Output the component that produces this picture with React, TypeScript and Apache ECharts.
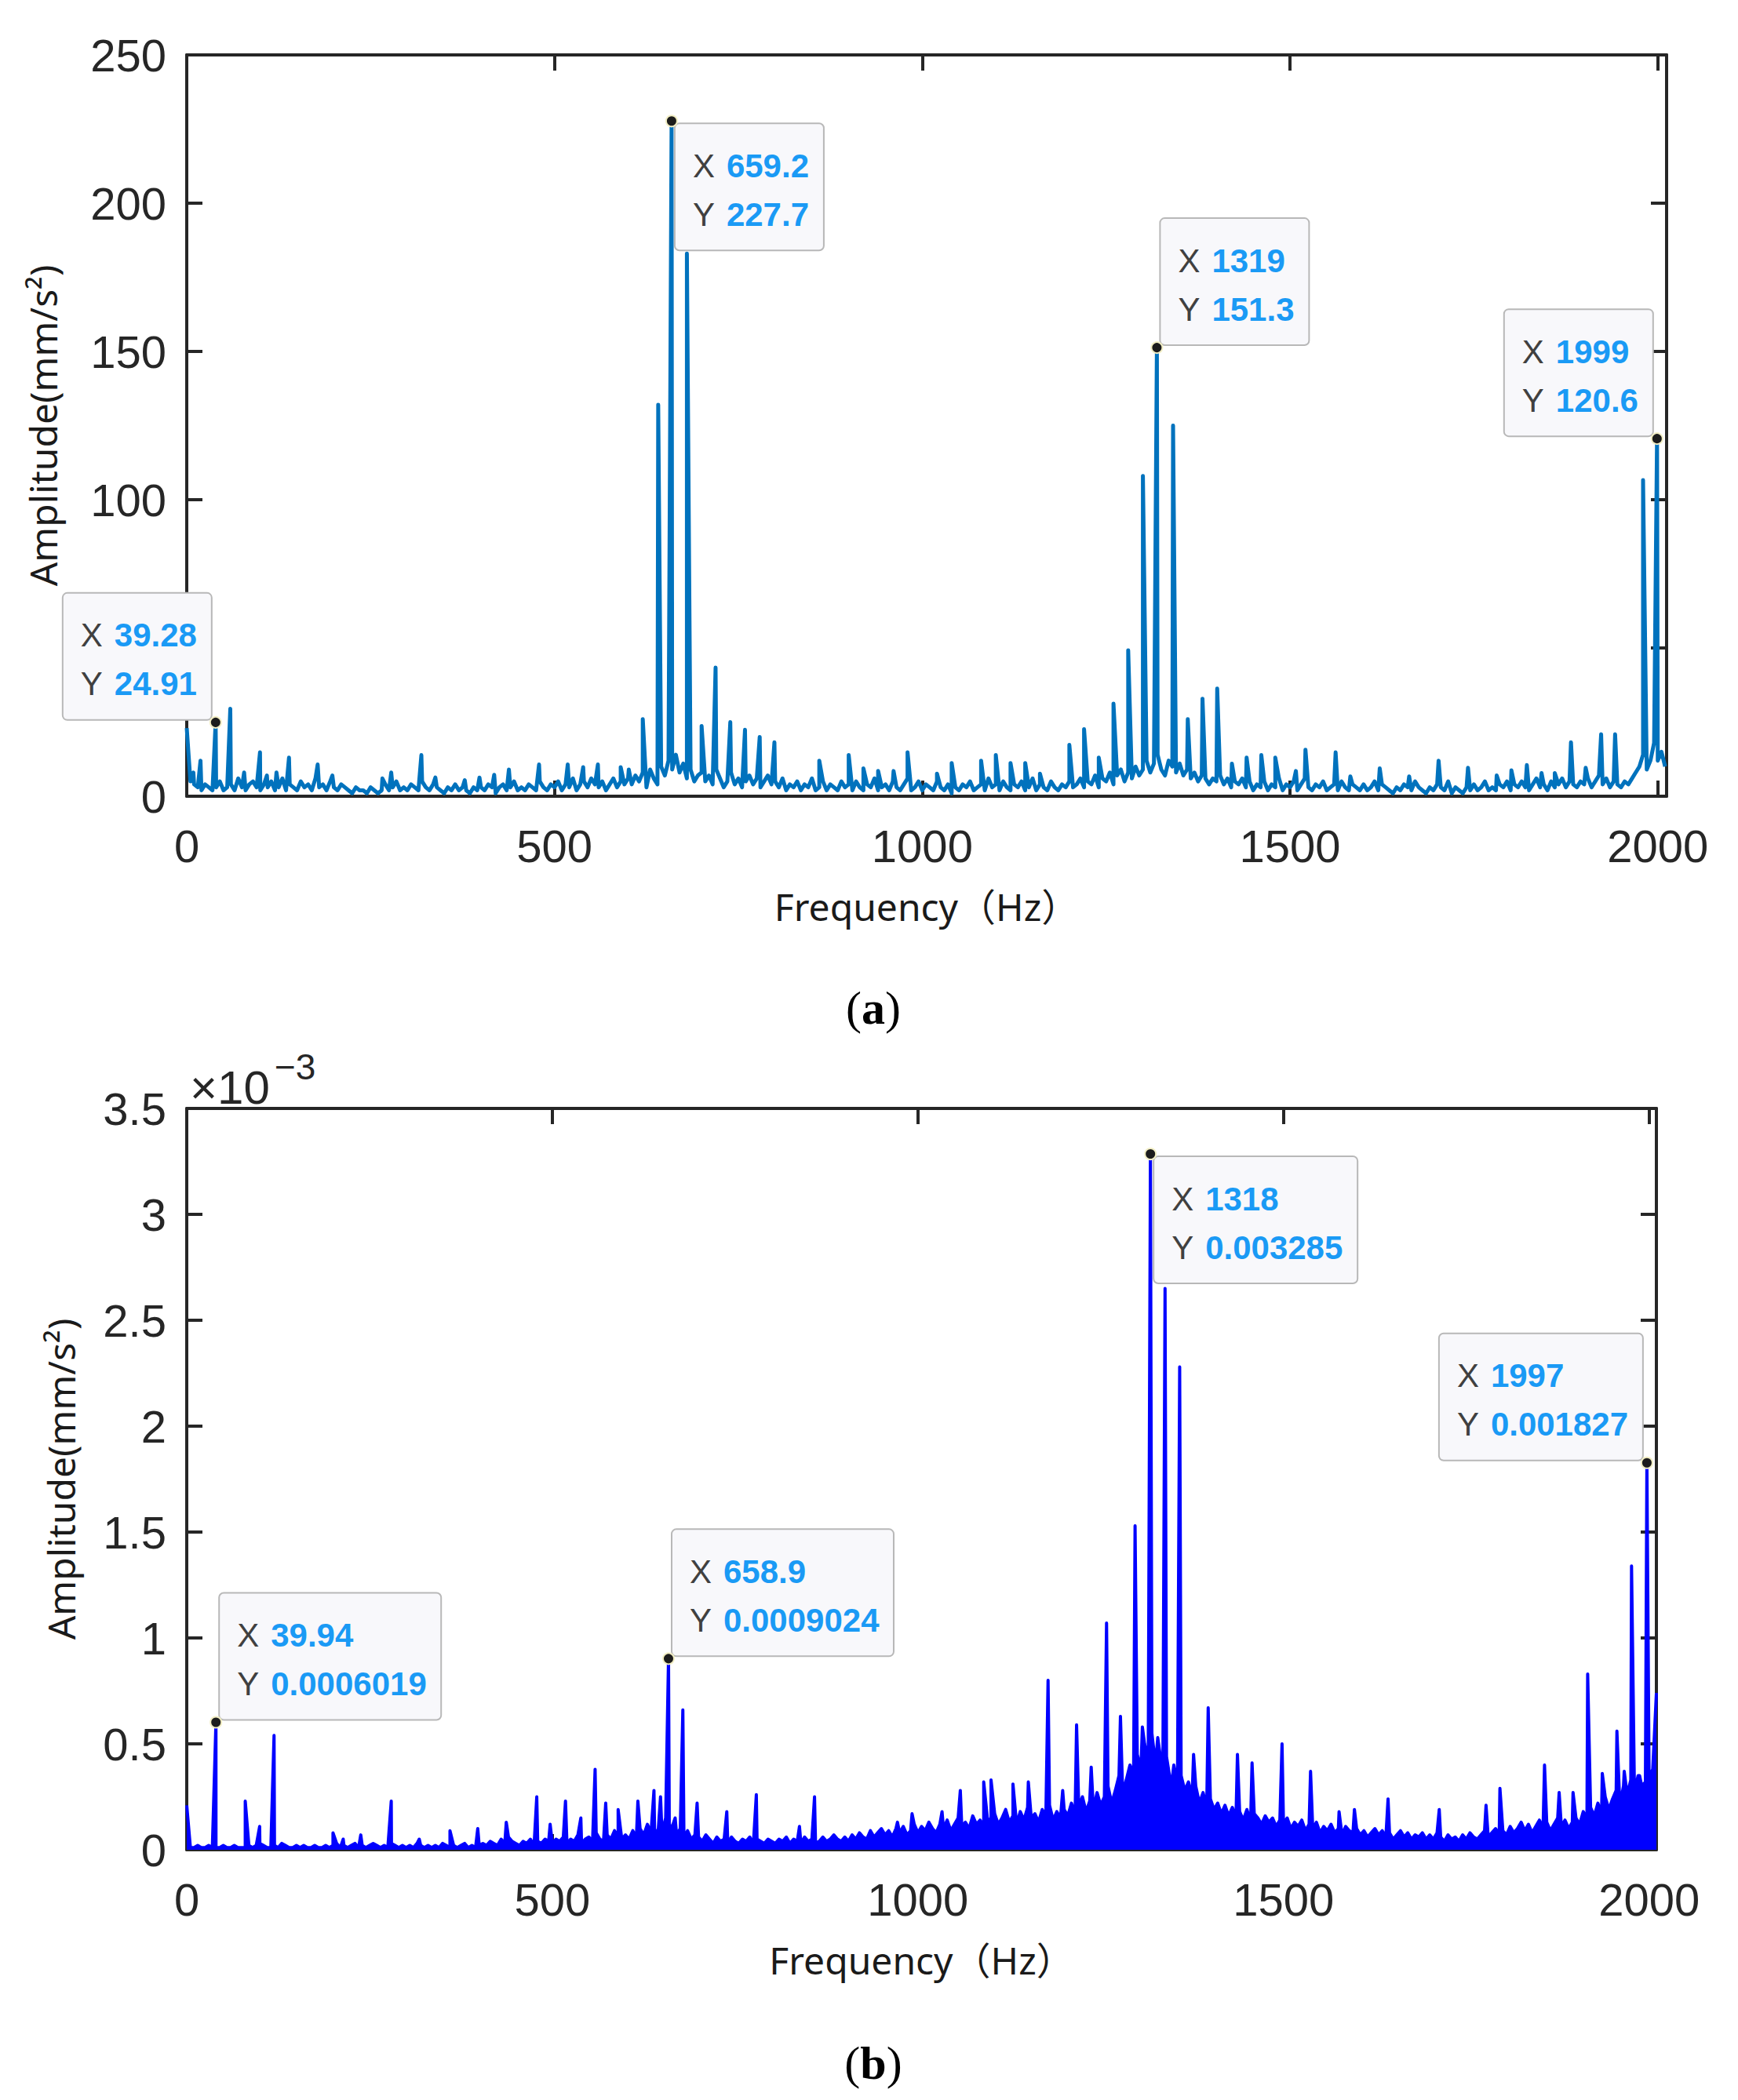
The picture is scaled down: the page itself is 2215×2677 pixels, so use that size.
import React, { useEffect, useRef } from "react";
import * as echarts from "echarts";

// ---------- chart (a) data : amplitude in mm/s^2 ----------
const aStep = 5; // Hz between floor samples
const aFloor: number[] = [
  23, 5, 4, 3, 2, 4, 3, 2, 3, 5, 2, 3, 4, 2, 6, 3, 2, 4, 5, 3,
  2, 4, 3, 5, 2, 3, 6, 2, 4, 3, 2, 5, 3, 4, 2, 6, 3, 4, 2, 5,
  3, 2, 4, 3, 2, 1, 3, 2, 2, 1, 3, 2, 1, 2, 4, 2, 3, 5, 2, 3,
  2, 4, 3, 2, 5, 3, 2, 4, 3, 2, 1, 3, 2, 4, 2, 3, 2, 1, 3, 2,
  3, 2, 4, 3, 1, 3, 4, 2, 3, 5, 2, 3, 2, 4, 3, 2, 5, 3, 2, 4,
  3, 5, 2, 4, 3, 6, 2, 4, 5, 3, 6, 4, 3, 5, 2, 4, 6, 3, 5, 4,
  6, 4, 7, 5, 8, 3, 9, 6, 4, 10, 7, 12, 9, 14, 8, 11, 6, 9, 5, 7,
  8, 5, 7, 4, 9, 6, 3, 5, 8, 4, 6, 3, 5, 7, 4, 6, 3, 5, 7, 4,
  5, 3, 6, 2, 4, 3, 5, 2, 4, 3, 6, 2, 3, 5, 2, 4, 3, 2, 5, 3,
  4, 2, 5, 3, 2, 4, 3, 6, 2, 3, 4, 2, 5, 3, 2, 4, 6, 2, 3, 5,
  2, 4, 3, 2, 5, 3, 2, 4, 1, 3, 2, 4, 3, 5, 2, 3, 4, 2, 6, 3,
  4, 2, 5, 3, 2, 4, 3, 5, 2, 3, 6, 2, 4, 3, 2, 5, 3, 2, 4, 3,
  5, 3, 4, 6, 3, 5, 4, 7, 3, 6, 5, 8, 4, 7, 9, 5, 8, 6, 10, 7,
  9, 12, 8, 11, 14, 9, 7, 12, 10, 8, 11, 7, 9, 6, 8, 5, 7, 6, 4, 6,
  5, 7, 4, 6, 3, 5, 4, 6, 3, 5, 2, 4, 3, 5, 2, 4, 3, 6, 2, 4,
  3, 5, 2, 4, 6, 3, 2, 4, 3, 5, 2, 3, 4, 2, 5, 3, 2, 4, 3, 2,
  4, 2, 3, 5, 2, 4, 3, 2, 1, 3, 2, 4, 3, 2, 5, 3, 2, 1, 3, 2,
  4, 3, 2, 5, 1, 3, 2, 1, 3, 2, 4, 2, 3, 5, 2, 3, 2, 4, 3, 5,
  2, 4, 3, 5, 3, 2, 4, 6, 3, 4, 2, 5, 3, 4, 6, 3, 5, 4, 3, 5,
  4, 6, 3, 5, 7, 4, 6, 3, 5, 4, 3, 5, 4, 6, 8, 10, 14, 9, 12, 18,
  12, 15, 10,
];
const aPeaks: [number, number][] = [
  [9, 8], [18.7, 12], [39.28, 24.91], [59.2, 29.5], [78, 8], [99.6, 14.8], [109, 7], [122, 8],
  [139, 13], [178, 10.7], [198, 7], [266, 6], [278, 8], [319, 13.9], [338, 6.3], [378, 5.4],
  [398, 6.3], [418, 7.2], [438, 9], [479, 10.7], [518, 10.7], [539, 9.8], [559, 10.7], [590, 9.8],
  [601, 9], [620, 26], [641, 132], [659.2, 227.7], [680, 183], [700, 23.7], [719, 43.4], [739, 25],
  [759, 22.4], [779, 20], [799, 18.2], [860, 12], [900, 13.9], [920, 9.4], [940, 8.5], [961, 8.5],
  [980, 14.8], [1020, 7.6], [1040, 11.2], [1080, 12], [1100, 13.9], [1120, 11.2], [1140, 11.2],
  [1160, 7.6], [1200, 17.3], [1220, 22.6], [1240, 13], [1260, 31.2], [1280, 49.2], [1300, 108],
  [1319, 151.3], [1341, 125], [1361, 26], [1381, 32.9], [1401, 36.3], [1421, 11], [1441, 13],
  [1461, 13.9], [1480, 13], [1508, 8.5], [1521, 15.7], [1562, 14.8], [1582, 6.7], [1622, 9.4],
  [1662, 6.7], [1702, 12], [1742, 9.6], [1781, 7], [1801, 8.7], [1822, 10.5], [1842, 7.8],
  [1860, 7.8], [1882, 18.2], [1902, 9.6], [1923, 20.9], [1942, 20.9], [1980, 106.6], [1999, 120.6],
];
const aTipFreqs = [39.28, 659.2, 1319, 1999];
const aTipPlace = ["ul", "dr", "ur", "ul"];
const aXTicks = [0, 500, 1000, 1500, 2000];
// the "50" label is hidden under the first data tip in the reference
const aYLabels = [0, 100, 150, 200, 250];

// ---------- chart (b) data : amplitude in 10^-3 mm/s^2 ----------
const bStep = 5;
const bFloor: number[] = [
  0.21, 0.01, 0.01, 0.02, 0.01, 0.01, 0.02, 0.01, 0.01, 0.01, 0.02, 0.01, 0.01, 0.02, 0.01, 0.01, 0.01, 0.02, 0.01, 0.02,
  0.03, 0.02, 0.01, 0.01, 0.02, 0.01, 0.03, 0.02, 0.01, 0.01, 0.02, 0.01, 0.02, 0.01, 0.01, 0.02, 0.01, 0.01, 0.02, 0.01,
  0.02, 0.03, 0.01, 0.02, 0.01, 0.02, 0.03, 0.01, 0.02, 0.01, 0.02, 0.03, 0.02, 0.01, 0.02, 0.01, 0.03, 0.02, 0.01, 0.02,
  0.01, 0.02, 0.01, 0.03, 0.02, 0.01, 0.02, 0.01, 0.02, 0.01, 0.03, 0.02, 0.01, 0.02, 0.01, 0.02, 0.03, 0.01, 0.02, 0.01,
  0.02, 0.03, 0.02, 0.04, 0.03, 0.02, 0.05, 0.03, 0.06, 0.04, 0.03, 0.02, 0.04, 0.03, 0.05, 0.02, 0.04, 0.03, 0.05, 0.04,
  0.03, 0.05, 0.04, 0.06, 0.03, 0.05, 0.04, 0.07, 0.03, 0.05, 0.06, 0.04, 0.08, 0.05, 0.04, 0.07, 0.05, 0.09, 0.06, 0.05,
  0.07, 0.05, 0.09, 0.06, 0.1, 0.07, 0.12, 0.08, 0.06, 0.1, 0.08, 0.15, 0.09, 0.12, 0.07, 0.1, 0.06, 0.09, 0.05, 0.07,
  0.06, 0.04, 0.07, 0.05, 0.03, 0.06, 0.04, 0.05, 0.03, 0.06, 0.04, 0.03, 0.05, 0.04, 0.06, 0.03, 0.05, 0.04, 0.03, 0.05,
  0.04, 0.03, 0.05, 0.04, 0.06, 0.03, 0.05, 0.04, 0.03, 0.06, 0.04, 0.05, 0.03, 0.04, 0.06, 0.04, 0.05, 0.07, 0.05, 0.04,
  0.06, 0.04, 0.07, 0.05, 0.08, 0.06, 0.05, 0.09, 0.06, 0.08, 0.1, 0.07, 0.09, 0.06, 0.1, 0.08, 0.11, 0.07, 0.09, 0.12,
  0.08, 0.11, 0.09, 0.13, 0.1, 0.08, 0.12, 0.1, 0.14, 0.09, 0.12, 0.15, 0.11, 0.13, 0.1, 0.16, 0.12, 0.14, 0.11, 0.15,
  0.13, 0.17, 0.12, 0.15, 0.19, 0.13, 0.16, 0.12, 0.18, 0.14, 0.2, 0.15, 0.17, 0.13, 0.19, 0.16, 0.21, 0.14, 0.18, 0.15,
  0.19, 0.16, 0.22, 0.17, 0.2, 0.25, 0.18, 0.23, 0.19, 0.27, 0.21, 0.25, 0.3, 0.22, 0.28, 0.35, 0.27, 0.33, 0.4, 0.36,
  0.45, 0.38, 0.5, 0.42, 0.55, 0.4, 0.48, 0.36, 0.44, 0.33, 0.4, 0.3, 0.35, 0.28, 0.32, 0.25, 0.3, 0.22, 0.27, 0.2,
  0.24, 0.19, 0.22, 0.17, 0.21, 0.16, 0.2, 0.15, 0.18, 0.14, 0.19, 0.13, 0.17, 0.15, 0.12, 0.16, 0.13, 0.15, 0.11, 0.14,
  0.12, 0.15, 0.1, 0.13, 0.11, 0.14, 0.09, 0.12, 0.1, 0.13, 0.08, 0.11, 0.09, 0.12, 0.08, 0.1, 0.07, 0.11, 0.09, 0.08,
  0.1, 0.07, 0.09, 0.06, 0.08, 0.1, 0.07, 0.09, 0.06, 0.08, 0.05, 0.07, 0.09, 0.06, 0.08, 0.05, 0.07, 0.06, 0.08, 0.05,
  0.07, 0.05, 0.08, 0.06, 0.04, 0.07, 0.05, 0.06, 0.04, 0.07, 0.05, 0.08, 0.06, 0.05, 0.07, 0.09, 0.06, 0.08, 0.1, 0.07,
  0.09, 0.07, 0.11, 0.08, 0.1, 0.13, 0.09, 0.12, 0.08, 0.11, 0.14, 0.1, 0.13, 0.09, 0.12, 0.15, 0.11, 0.14, 0.1, 0.13,
  0.15, 0.12, 0.18, 0.14, 0.2, 0.16, 0.22, 0.17, 0.25, 0.19, 0.24, 0.28, 0.21, 0.3, 0.26, 0.33, 0.27, 0.35, 0.3, 0.32,
  0.34, 0.38, 0.74,
];
const bPeaks: [number, number][] = [
  [39.94, 0.6019], [80, 0.23], [99.7, 0.11], [119.4, 0.54], [200, 0.08], [214, 0.05], [238, 0.07],
  [279.7, 0.23], [318, 0.05], [360, 0.09], [398, 0.1], [437, 0.13], [478.7, 0.25], [497, 0.12],
  [518, 0.23], [539, 0.15], [558.5, 0.38], [573, 0.22], [590, 0.19], [617, 0.23], [639, 0.28],
  [648, 0.25], [658.9, 0.9024], [668, 0.15], [678.5, 0.66], [698, 0.22], [738.6, 0.18], [779, 0.26],
  [838, 0.11], [858.6, 0.25], [972, 0.13], [992, 0.17], [1033, 0.18], [1058, 0.28], [1090, 0.32],
  [1100, 0.33], [1130, 0.31], [1151, 0.32], [1178, 0.8], [1198, 0.28], [1217, 0.59], [1237, 0.39],
  [1258, 1.07], [1277, 0.63], [1297, 1.53], [1307, 0.58], [1318, 3.285], [1328, 0.53], [1338, 2.65],
  [1348, 0.34], [1358, 2.28], [1377, 0.45], [1397, 0.67], [1437, 0.45], [1457, 0.41], [1498, 0.5],
  [1537, 0.37], [1576, 0.18], [1597, 0.19], [1643, 0.24], [1713, 0.19], [1777, 0.21], [1796, 0.29],
  [1857, 0.4], [1877, 0.27], [1896, 0.27], [1916, 0.83], [1936, 0.36], [1956, 0.56], [1966, 0.37],
  [1976, 1.34], [1987, 0.35], [1997, 1.827],
];
const bTipFreqs = [39.94, 658.9, 1318, 1997];
const bTipPlace = ["ur", "ur", "dr", "ul"];
const bScale = 1e-3; // stored values are in units of 10^-3
const bXTicks = [0, 500, 1000, 1500, 2000];
const bYLabels = [0, 0.5, 1, 1.5, 2, 2.5, 3, 3.5];

// ---------- helpers ----------
function buildSeries(floor: number[], step: number, peaks: [number, number][]): [number, number][] {
  const pts: [number, number][] = floor.map((v, i) => [i * step, v] as [number, number]);
  peaks.forEach((p) => pts.push([p[0], p[1]]));
  pts.sort((a, b) => a[0] - b[0]);
  return pts;
}

const TICK_COLOR = "#262626";
const TICK_FONT = "'Liberation Sans', Arial, sans-serif";
const NAME_FONT = "'Noto Sans', 'Noto Sans CJK SC', sans-serif";
const TIP_SIZE = 42;

function valueAxisX(gridIndex: number, max: number, top: boolean, ticks: number[]) {
  return {
    type: "value",
    gridIndex,
    min: 0,
    max,
    interval: 500,
    position: top ? "top" : "bottom",
    name: top ? "" : "Frequency\uFF08Hz\uFF09",
    nameLocation: "middle",
    nameGap: 116,
    nameTextStyle: { fontFamily: NAME_FONT, fontSize: 48, color: "#1a1a1a" },
    axisLine: { show: true, onZero: false, lineStyle: { color: TICK_COLOR, width: 4 } },
    axisTick: { show: true, inside: true, length: 20, lineStyle: { color: TICK_COLOR, width: 4 } },
    axisLabel: {
      show: !top,
      margin: 34,
      fontFamily: TICK_FONT,
      fontSize: 58,
      color: TICK_COLOR,
      formatter: (v: number) => (ticks.indexOf(v) >= 0 ? String(v) : ""),
    },
    splitLine: { show: false },
  };
}

function valueAxisY(gridIndex: number, max: number, interval: number, right: boolean, labels: number[], nameGap: number) {
  return {
    type: "value",
    gridIndex,
    min: 0,
    max,
    interval,
    position: right ? "right" : "left",
    name: right ? "" : "Amplitude(mm/s\u00B2)",
    nameLocation: "middle",
    nameRotate: 90,
    nameGap,
    nameTextStyle: { fontFamily: NAME_FONT, fontSize: 48, color: "#1a1a1a" },
    axisLine: { show: true, onZero: false, lineStyle: { color: TICK_COLOR, width: 4 } },
    axisTick: { show: true, inside: true, length: 20, lineStyle: { color: TICK_COLOR, width: 4 } },
    axisLabel: {
      show: !right,
      margin: 26,
      fontFamily: TICK_FONT,
      fontSize: 58,
      color: TICK_COLOR,
      formatter: (v: number) => (labels.indexOf(v) >= 0 ? String(v) : ""),
    },
    splitLine: { show: false },
  };
}

let measureCtx: CanvasRenderingContext2D | null = null;
function textWidth(s: string, font: string): number {
  if (!measureCtx) measureCtx = document.createElement("canvas").getContext("2d");
  if (!measureCtx) return s.length * TIP_SIZE * 0.56;
  measureCtx.font = font;
  return measureCtx.measureText(s).width;
}

export default function App() {
  const ref = useRef<HTMLDivElement>(null);
  useEffect(() => {
    document.body.style.margin = "0";
    if (!ref.current) return;
    const chart = echarts.init(ref.current, null, { renderer: "svg" });

    const aData = buildSeries(aFloor, aStep, aPeaks);
    const bData = buildSeries(bFloor, bStep, bPeaks);

    chart.setOption({
      animation: false,
      backgroundColor: "#ffffff",
      grid: [
        { left: 238, top: 70, width: 1886, height: 945 },
        { left: 238, top: 1413, width: 1873, height: 945 },
      ],
      xAxis: [
        valueAxisX(0, 2012, false, aXTicks),
        valueAxisX(0, 2012, true, aXTicks),
        valueAxisX(1, 2010, false, bXTicks),
        valueAxisX(1, 2010, true, bXTicks),
      ],
      yAxis: [
        valueAxisY(0, 250, 50, false, aYLabels, 160),
        valueAxisY(0, 250, 50, true, aYLabels, 160),
        valueAxisY(1, 3.5, 0.5, false, bYLabels, 137),
        valueAxisY(1, 3.5, 0.5, true, bYLabels, 137),
      ],
      series: [
        {
          type: "line",
          xAxisIndex: 0,
          yAxisIndex: 0,
          data: aData,
          showSymbol: false,
          symbol: "none",
          clip: true,
          lineStyle: { color: "#0072BD", width: 5, join: "round" },
          z: 3,
        },
        {
          type: "line",
          xAxisIndex: 2,
          yAxisIndex: 2,
          data: bData,
          showSymbol: false,
          symbol: "none",
          clip: true,
          lineStyle: { color: "#0000FF", width: 4, join: "round" },
          areaStyle: { color: "#0000FF", opacity: 1 },
          z: 3,
        },
      ],
    });

    const boldFont = `bold ${TIP_SIZE}px 'Liberation Sans'`;
    const tipText = (xs: string, ys: string, x: number, y: number, place: string) => {
      const vw = Math.ceil(Math.max(textWidth(xs, boldFont), textWidth(ys, boldFont)));
      const align = place === "ul" ? "right" : "left";
      const vAlign = place === "dr" ? "top" : "bottom";
      const dx = place === "ul" ? -6 : 5;
      const dy = place === "dr" ? 4 : -4;
      return {
        type: "text",
        z: 100,
        style: {
          text: `{k|X}{v|${xs}}\n{k|Y}{v|${ys}}`,
          x: x + dx,
          y: y + dy,
          align,
          verticalAlign: vAlign,
          backgroundColor: "#f8f8fb",
          borderColor: "#b8b8b8",
          borderWidth: 2,
          borderRadius: 5,
          padding: [22, 17, 14, 22],
          fontFamily: TICK_FONT,
          fontSize: TIP_SIZE,
          lineHeight: 62,
          fill: "#404040",
          rich: {
            k: { fontFamily: TICK_FONT, fontSize: TIP_SIZE, lineHeight: 62, fill: "#404040", width: 43, align: "left" },
            v: {
              fontFamily: TICK_FONT,
              fontSize: TIP_SIZE,
              lineHeight: 62,
              fontWeight: "bold",
              fill: "#1a9af5",
              width: vw,
              align: "left",
            },
          },
        },
      };
    };

    const graphics: any[] = [];
    const addTips = (
      freqs: number[],
      places: string[],
      peaks: [number, number][],
      gridIndex: number,
      scale: number
    ) => {
      freqs.forEach((f, i) => {
        const p = peaks.find((q) => q[0] === f);
        if (!p) return;
        const px = chart.convertToPixel({ gridIndex }, [p[0], p[1]]) as number[];
        const xs = String(p[0]);
        const ys = (p[1] * scale).toPrecision(4);
        graphics.push(tipText(xs, ys, px[0], px[1], places[i]));
        graphics.push({
          type: "circle",
          z: 101,
          shape: { cx: px[0], cy: px[1], r: 7 },
          style: { fill: "#1c1c1c", stroke: "#f2eec4", lineWidth: 2 },
        });
      });
    };
    addTips(aTipFreqs, aTipPlace, aPeaks, 0, 1);
    addTips(bTipFreqs, bTipPlace, bPeaks, 1, bScale);

    const serif = "'Liberation Serif', 'Times New Roman', serif";
    const caption = (letter: string, y: number) => ({
      type: "text",
      z: 50,
      style: {
        text: `{p|(}{b|${letter}}{p|)}`,
        x: 1113,
        y,
        align: "center",
        verticalAlign: "middle",
        rich: {
          p: { fontFamily: serif, fontSize: 60, fill: "#000" },
          b: { fontFamily: serif, fontSize: 60, fontWeight: "bold", fill: "#000" },
        },
      },
    });

    graphics.push(
      caption("a", 1285),
      caption("b", 2630),
      {
        type: "text",
        z: 50,
        style: {
          text: "\u00D710",
          x: 242,
          y: 1386,
          align: "left",
          verticalAlign: "middle",
          fontFamily: TICK_FONT,
          fontSize: 60,
          fill: TICK_COLOR,
        },
      },
      {
        type: "text",
        z: 50,
        style: {
          text: "\u22123",
          x: 350,
          y: 1360,
          align: "left",
          verticalAlign: "middle",
          fontFamily: TICK_FONT,
          fontSize: 46,
          fill: TICK_COLOR,
        },
      }
    );

    chart.setOption({ graphic: graphics });

    return () => chart.dispose();
  }, []);
  return <div ref={ref} style={{ width: 2215, height: 2677 }} />;
}
